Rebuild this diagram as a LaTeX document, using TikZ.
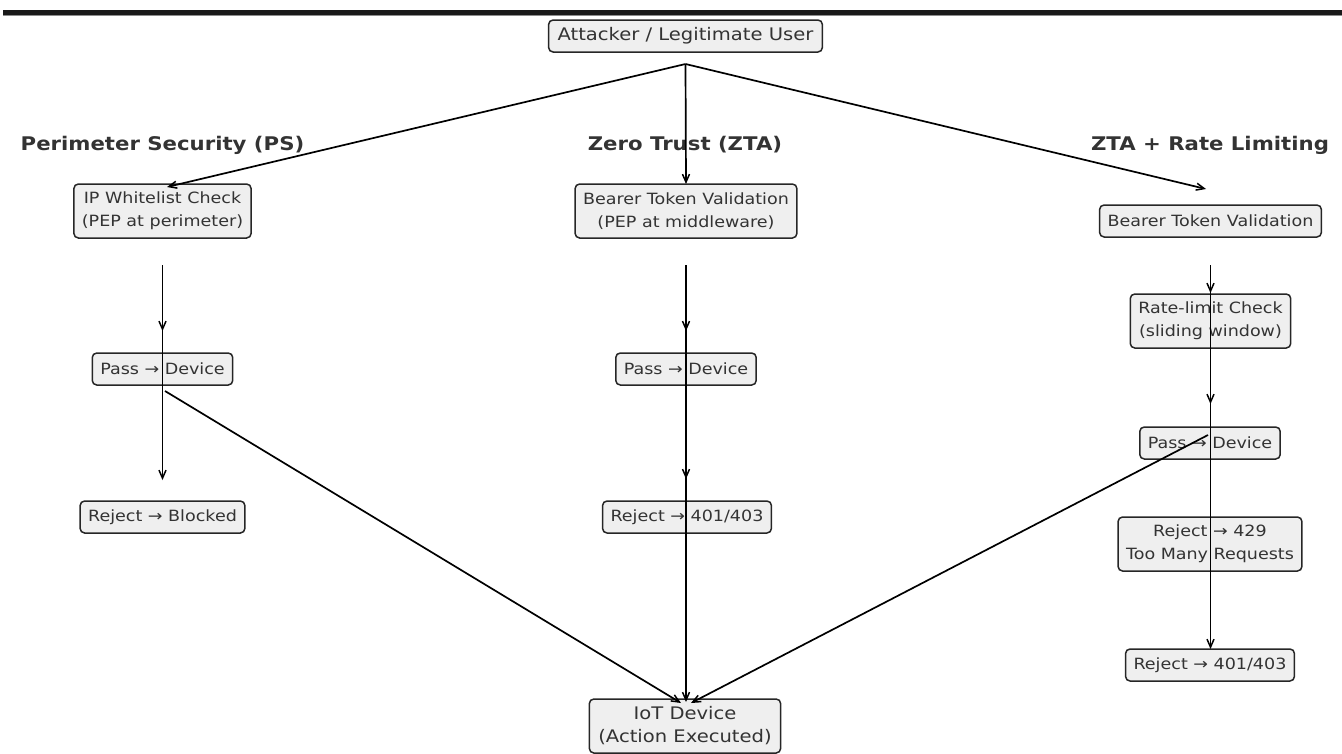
\documentclass[tikz,border=0pt]{standalone}
\usepackage{fontspec}
\setmainfont[FakeStretch=1.13]{DejaVu Sans}
\usetikzlibrary{arrows.meta}
\definecolor{txt}{HTML}{333333}
\definecolor{boxfill}{HTML}{EFEFEF}
\definecolor{boxline}{HTML}{262626}
\tikzset{
  box/.style={draw=boxline, line width=1.5pt, fill=boxfill, rounded corners=4.5pt,
    text=txt, font=\fontsize{15.5}{23}\selectfont, align=center,
    inner xsep=8pt, inner ysep=0pt, minimum height=32pt},
  boxtwo/.style={box, minimum height=54pt},
  bigtext/.style={font=\fontsize{17.3}{23}\selectfont, inner xsep=9pt},
  heading/.style={text=txt, font=\fontsize{18.8}{22}\selectfont\bfseries},
  arr/.style={draw=black, line width=1.7pt, -{Straight Barb[length=8pt,width=7pt,line width=1.5pt]}}
}
\begin{document}
\begin{tikzpicture}[x=1pt,y=-1pt]
\useasboundingbox (0,0) rectangle (1342,753);
\fill[black!90] (3,10) rectangle (1342,15);
\fill[black!45] (3,15) rectangle (1342,16);

% headings
\node[heading] (hps) at (162.5,145) {Perimeter Security (PS)};
\node[heading] (hzt) at (685,145) {Zero Trust (ZTA)};
\node[heading] (hrl) at (1210,145) {ZTA + Rate Limiting};

% nodes
\node[box, bigtext] (att) at (685.5,36) {Attacker / Legitimate User};

\node[boxtwo] (ip) at (162.5,211) {IP Whitelist Check\\(PEP at perimeter)};
\node[box] (pspass) at (162.5,369) {Pass → Device};
\node[box] (psrej) at (162.5,517) {Reject → Blocked};

\node[boxtwo] (ztb) at (686,211) {Bearer Token Validation\\(PEP at middleware)};
\node[box] (ztpass) at (686,369) {Pass → Device};
\node[box] (ztrej) at (687,517) {Reject → 401/403};

\node[box] (rlb) at (1210.5,221) {Bearer Token Validation};
\node[boxtwo] (rate) at (1210.5,321) {Rate-limit Check\\(sliding window)};
\node[box] (rlpass) at (1210,443) {Pass → Device};
\node[boxtwo] (rl429) at (1210,544) {Reject → 429\\Too Many Requests};
\node[box] (rl401) at (1210,665) {Reject → 401/403};

\node[boxtwo, bigtext] (iot) at (685,726) {IoT Device\\(Action Executed)};

% connector end points
\coordinate (attOut) at (685.5,64);
\coordinate (ipIn) at (167,187);
\coordinate (ztbIn) at (686,184);
\coordinate (rlbIn) at (1206,189);

\coordinate (ipOut) at (162.5,265);
\coordinate (pspassIn) at (162.5,331);
\coordinate (psrejIn) at (162.5,480);
\coordinate (pspassOut) at (165,391);
\coordinate (iotInL) at (681,703);

\coordinate (ztbOut) at (686,265);
\coordinate (ztpassIn) at (686,331);
\coordinate (ztrejIn) at (686,479);
\coordinate (ztpassOut) at (686,390);
\coordinate (iotInM) at (686,702);

\coordinate (rlbOut) at (1210.5,265);
\coordinate (rateIn) at (1210.5,293);
\coordinate (rateOut) at (1210.5,349);
\coordinate (rlpassIn) at (1210.5,404);
\coordinate (rl401In) at (1210.5,649);
\coordinate (rlpassOut) at (1208,435);
\coordinate (iotInR) at (691,703);

% connectors
\draw[arr] (attOut) -- (ipIn);
\draw[arr] (attOut) -- (ztbIn);
\draw[arr] (attOut) -- (rlbIn);

\draw[arr] (ipOut) -- (pspassIn);
\draw[arr] (ipOut) -- (psrejIn);
\draw[arr] (pspassOut) -- (iotInL);

\draw[arr] (ztbOut) -- (ztpassIn);
\draw[arr] (ztbOut) -- (ztrejIn);
\draw[arr] (ztpassOut) -- (iotInM);

\draw[arr] (rlbOut) -- (rateIn);
\draw[arr] (rateOut) -- (rlpassIn);
\draw[arr] (rlbOut) -- (rl401In);
\draw[arr] (rlpassOut) -- (iotInR);
\end{tikzpicture}
\end{document}
